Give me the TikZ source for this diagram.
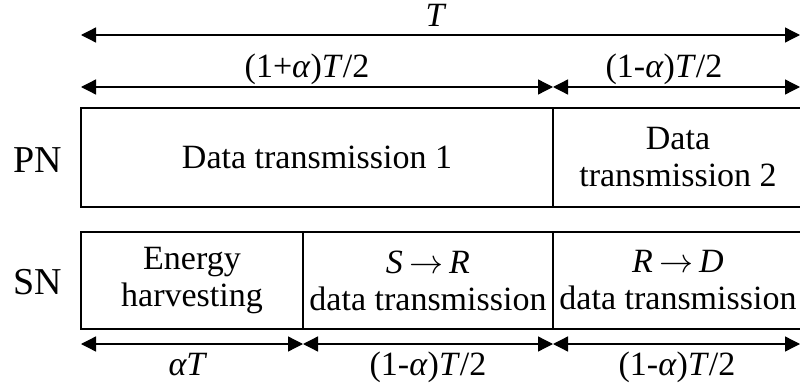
\RequirePackage{fix-cm}
\documentclass[tikz,border=0pt]{standalone}
\usepackage{fontspec}
\setmainfont{Liberation Serif}
\usetikzlibrary{arrows.meta}
\newcommand\diagfont{\fontsize{34}{37}\selectfont}
\newcommand\rowfont{\fontsize{38}{40}\selectfont}
\newcommand\flowto{\hspace{0.18em}$\rightarrow$\hspace{0.18em}}
\begin{document}
\begin{tikzpicture}[x=1pt,y=-1pt,
  cell/.style={draw, line width=1.3pt, inner sep=0pt, align=center, font=\diagfont},
  dimline/.style={{Triangle[length=15pt,width=15pt]}-{Triangle[length=15pt,width=15pt]}, line width=1.3pt},
  lab/.style={font=\diagfont, inner sep=0pt, anchor=base},
  rowlab/.style={font=\rowfont, inner sep=0pt}]
\useasboundingbox (0,0) rectangle (800,385);

% PN row
\node[cell, minimum width=472pt, minimum height=99pt] (pn1) at (317,157.5) {Data transmission 1};
\node[cell, minimum width=250pt, minimum height=99pt] (pn2) at (678,157.5) {Data\\transmission 2};
% SN row
\node[cell, minimum width=222pt, minimum height=97pt] (sn1) at (192,280.5) {Energy\\harvesting};
\node[cell, minimum width=250pt, minimum height=97pt] (sn2) at (428,280.5) {\textit{S}\flowto\textit{R}\\data transmission};
\node[cell, minimum width=250pt, minimum height=97pt] (sn3) at (678,280.5) {\textit{R}\flowto\textit{D}\\data transmission};

% row labels
\node[rowlab] (pnlab) at (38,160) {PN};
\node[rowlab] (snlab) at (38,282) {SN};

% dimension arrow end points
\coordinate (t0) at (81,35);
\coordinate (t1) at (800,35);
\coordinate (h0) at (81,87);
\coordinate (h1) at (553,87);
\coordinate (h2) at (800,87);
\coordinate (b0) at (81,344);
\coordinate (b1) at (303,344);
\coordinate (b2) at (553,344);
\coordinate (b3) at (800,344);

\draw[dimline] (t0) -- (t1);
\draw[dimline] (h0) -- (h1);
\draw[dimline] (h1) -- (h2);
\draw[dimline] (b0) -- (b1);
\draw[dimline] (b1) -- (b2);
\draw[dimline] (b2) -- (b3);

% dimension labels
\node[lab] (lT) at (436,27) {\textit{T}};
\node[lab] (lA) at (307,78) {(1+\textit{α})\textit{T}/2};
\node[lab] (lB) at (664,78) {(1-\textit{α})\textit{T}/2};
\node[lab] (lC) at (188,375) {\textit{αT}};
\node[lab] (lD) at (428,375) {(1-\textit{α})\textit{T}/2};
\node[lab] (lE) at (677,375) {(1-\textit{α})\textit{T}/2};
\end{tikzpicture}
\end{document}
